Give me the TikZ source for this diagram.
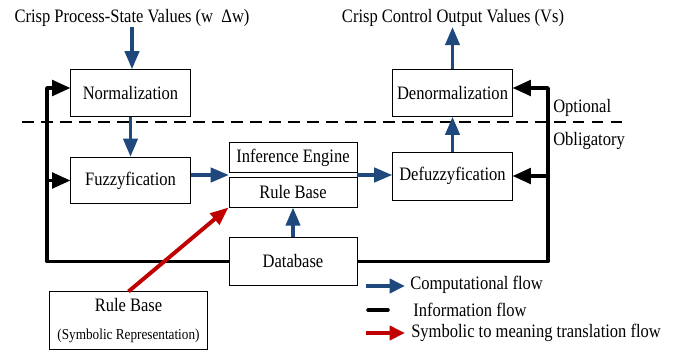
\documentclass[tikz,border=0pt]{standalone}
\usepackage{fontspec}
\setmainfont{Liberation Serif}[FakeStretch=0.87]
\usetikzlibrary{arrows.meta}
\definecolor{flowblue}{RGB}{31,73,125}
\definecolor{flowred}{RGB}{192,0,0}
\begin{document}
\begin{tikzpicture}[x=0.025cm, y=-0.025cm]
	\tikzset{bx/.style={draw, line width=0.6pt, inner sep=0pt, minimum width=2.98cm, minimum height=1.16cm, font=\fontsize{13.5}{15}\selectfont},
		lbl/.style={inner sep=0pt, font=\fontsize{13.5}{15}\selectfont},
		cf/.style={draw=flowblue, line width=2.8pt, -{Triangle[length=13pt, width=10pt]}},
		inf/.style={draw=black, line width=2.5pt, line join=round, -{Triangle[length=13pt, width=11pt]}},
		sym/.style={draw=flowred, line width=2.8pt, -{Triangle[length=13pt, width=10pt]}}};

	\useasboundingbox (0,0) rectangle (678,350);

	\node[lbl] (pin) at (132,18) {Crisp Process-State Values (w~~Δw)};
	\node[lbl] (pout) at (453,18) {Crisp Control Output Values (Vs)};

	\node[bx] (nm) at (130.5,93) {Normalization};
	\node[bx] (fz) at (130.5,180.5) {Fuzzyfication};
	\node[bx, minimum width=3.2cm, minimum height=0.73cm] (ie) at (293,157.5) {Inference Engine};
	\node[bx, minimum width=3.2cm, minimum height=0.75cm] (rb) at (293,192) {Rule Base};
	\node[bx, minimum width=3.2cm, minimum height=1.18cm] (db) at (293,261.5) {Database};
	\node[bx, minimum height=1.2cm] (df) at (452.5,176) {Defuzzyfication};
	\node[bx] (dn) at (452.5,93) {Denormalization};
	\node[bx, minimum width=3.93cm, minimum height=1.43cm, align=center] (rs) at (128.5,320.5)
		{Rule Base\\[5pt]{\fontsize{10.8}{12}\selectfont(Symbolic Representation)}};

	\node[lbl, anchor=west] (opt) at (553,108) {Optional};
	\node[lbl, anchor=west] (obl) at (553,141) {Obligatory};

	\draw[line width=1.5pt, dash pattern=on 8.5pt off 5pt] (22,122) -- (622,122);

	\coordinate (iein) at (229,175);
	\coordinate (rc) at (548,88);
	\coordinate (lc) at (47,88);

	% computational flow
	\draw[cf] (pin.south) -- (pin.south |- nm.north);
	\draw[cf] (nm) -- (fz);
	\draw[cf] (fz.east |- iein) -- (iein);
	\draw[cf] (ie.east |- iein) -- (df.west |- iein);
	\draw[cf] (df) -- (dn);
	\draw[cf] (dn.north) -- (dn.north |- pout.south);
	\draw[cf] (db) -- (rb);

	% information flow
	\draw[inf] (db.east) -| (rc) -- (rc -| dn.east);
	\draw[inf] (rc |- df.east) -- (df.east);
	\draw[inf] (db.west) -| (lc) -- (lc -| nm.west);
	\draw[inf] (lc |- fz.west) -- (fz.west);

	% symbolic to meaning
	\draw[sym] (rs.north) -- (rb.south west);

	% legend
	\coordinate (l1) at (366,286);
	\coordinate (l1e) at (405,286);
	\coordinate (l2) at (368,310);
	\coordinate (l2e) at (388,310);
	\coordinate (l3) at (366,333);
	\coordinate (l3e) at (405,333);
	\draw[cf, -{Triangle[length=11pt, width=10pt]}] (l1) -- (l1e);
	\draw[line width=2.5pt, line cap=round] (l2) -- (l2e);
	\draw[sym, -{Triangle[length=11pt, width=10pt]}] (l3) -- (l3e);
	\node[lbl, anchor=west] (t1) at (410,285) {Computational flow};
	\node[lbl, anchor=west] (t2) at (413,310) {Information flow};
	\node[lbl, anchor=west] (t3) at (411,333) {Symbolic to meaning translation flow};
\end{tikzpicture}
\end{document}
